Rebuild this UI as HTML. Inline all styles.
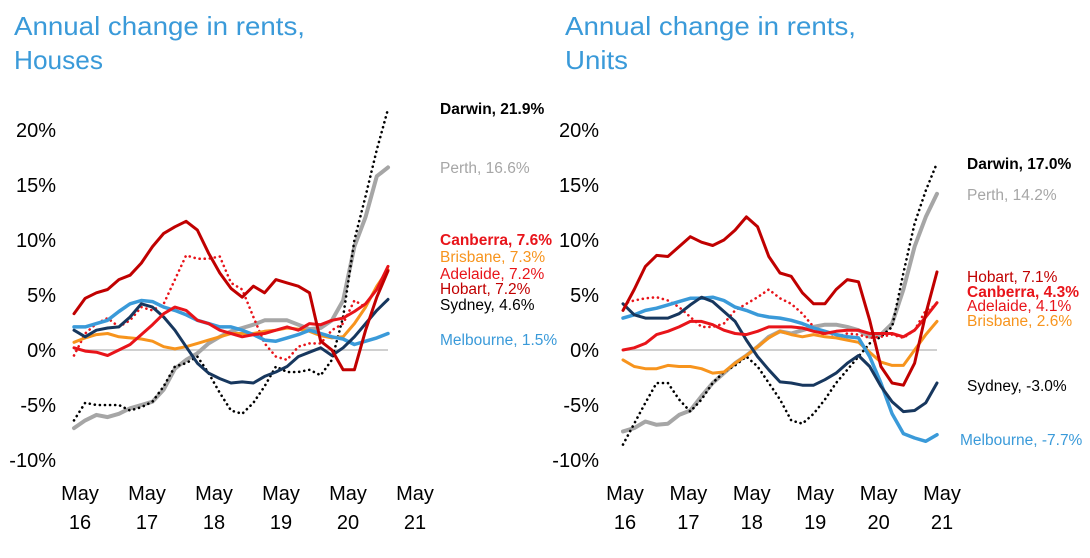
<!DOCTYPE html>
<html><head><meta charset="utf-8"><style>
html,body{margin:0;padding:0;background:#fff;}
svg{display:block;font-family:"Liberation Sans",sans-serif;}
</style></head><body>
<svg id="root" width="1090" height="558" viewBox="0 0 1090 558"></svg>
<script>
// Shared x categories (2-month steps from May 16)
const xCount = 29;
const yTicks = [20, 15, 10, 5, 0, -5, -10];
const yTickLabels = ["20%", "15%", "10%", "5%", "0%", "-5%", "-10%"];
const xTickYears = ["16", "17", "18", "19", "20", "21"];

// Houses
const hDarwin = [-6.4,-4.8,-5,-5,-5,-5.5,-5.2,-4.7,-3.3,-1.5,-1.2,-0.6,-2.1,-3.9,-5.5,-5.8,-4.8,-3.3,-1.5,-2,-2,-1.8,-2.3,-0.9,3,10,14,18.2,21.9];
const hPerth = [-7.1,-6.4,-5.9,-6.1,-5.8,-5.3,-5,-4.7,-3.6,-1.7,-0.9,-0.3,0.6,1.2,1.7,2,2.3,2.7,2.7,2.7,2.3,1.9,2,2.7,4.5,9.4,12.1,15.8,16.6];
const hCanberra = [0.2,-0.1,-0.2,-0.5,0,0.5,1.4,2.3,3.3,3.9,3.6,2.7,2.4,1.8,1.5,1.2,1.4,1.5,1.8,2.1,1.8,2.4,2.3,2.7,2.9,3.5,4.2,5.5,7.6];
const hHobart = [3.3,4.7,5.2,5.5,6.4,6.8,7.9,9.4,10.6,11.2,11.7,10.9,8.8,7,5.6,4.8,5.8,5.2,6.4,6.1,5.8,5.2,0.8,0,-1.8,-1.8,1.8,4.8,7.2];
const hAdelaide = [-0.5,1.5,2.4,2.9,2.1,2.7,3.9,3.6,4.2,6.4,8.6,8.3,8.3,8.5,6.1,5.5,3,0.6,-0.6,-0.9,0.3,0.6,0.6,1.8,2.4,4.5,3.9,5.8,7.2];
const hBrisbane = [0.7,1.1,1.4,1.5,1.2,1.1,1,0.8,0.3,0.1,0.3,0.6,0.9,1.2,1.5,1.5,1.5,1.7,1.8,2,1.9,1.7,1.3,1.1,1.2,2.4,3.9,5.8,7.3];
const hSydney = [1.8,1.2,1.8,2,2.1,3,4.2,3.9,3,1.8,0.3,-1.2,-2.1,-2.6,-3,-2.9,-3,-2.4,-2,-1.5,-0.6,-0.2,0.2,-0.5,0.2,1.2,2.4,3.6,4.6];
const hMelbourne = [2.1,2.1,2.4,2.7,3.5,4.2,4.5,4.4,3.9,3.6,3.2,2.7,2.4,2.1,2.1,1.8,1.4,0.9,0.8,1.1,1.4,1.8,1.5,1.2,1,0.5,0.8,1.1,1.5];

// Units
const uDarwin = [-8.6,-6.7,-4.8,-3,-3,-4.5,-5.6,-4.5,-3,-2,-1.4,-0.6,-1.5,-3,-4.5,-6.4,-6.7,-5.8,-4.5,-3,-1.8,-0.6,0.6,1.2,2.1,7,11.5,14.5,17];
const uPerth = [-7.4,-7.1,-6.5,-6.8,-6.7,-5.9,-5.5,-4.2,-3,-2.1,-1.2,-0.5,0.3,1.2,1.7,1.5,1.8,2.1,2.3,2.3,2.1,1.8,1.2,1.4,2.4,5.5,9.4,12.1,14.2];
const uHobart = [3.6,5.5,7.6,8.6,8.5,9.4,10.3,9.8,9.5,10,10.9,12.1,11.2,8.5,7,6.7,5.2,4.2,4.2,5.5,6.4,6.2,2.7,-1.5,-3,-3.2,-1.2,3.3,7.1];
const uCanberra = [0,0.2,0.6,1.4,1.7,2.1,2.6,2.6,2.3,1.8,1.5,1.4,1.7,2.1,2.1,2.1,2,1.7,1.5,1.7,1.8,1.8,1.5,1.5,1.5,1.2,1.8,3,4.3];
const uAdelaide = [4.2,4.5,4.7,4.8,4.5,3.9,3,2.1,2.1,2.4,3.6,4.2,4.8,5.5,4.7,4.2,3.3,2.1,1.2,1.2,1.5,1.4,1.1,1.2,1.4,1.1,1.8,3.6,4.1];
const uBrisbane = [-0.9,-1.5,-1.7,-1.7,-1.4,-1.5,-1.5,-1.7,-2.1,-2,-1.2,-0.5,0.3,1.1,1.7,1.4,1.2,1.4,1.2,1.1,0.9,0.7,-0.2,-1.1,-1.4,-1.4,0,1.4,2.6];
const uSydney = [4.2,3.2,2.9,2.9,2.9,3.3,4.1,4.8,4.4,3.5,2.6,0.9,-0.6,-1.8,-2.9,-3,-3.2,-3.2,-2.7,-2.1,-1.2,-0.5,-1.5,-3.3,-4.7,-5.6,-5.5,-4.8,-3];
const uMelbourne = [2.9,3.2,3.6,3.8,4.1,4.4,4.7,4.7,4.8,4.5,3.9,3.6,3.2,3,2.9,2.7,2.4,2,1.7,1.4,1.2,1.1,-0.6,-3,-5.8,-7.6,-8,-8.3,-7.7];

const C = {darwin:"#000", perth:"#a6a6a6", canberra:"#e8141a", hobart:"#c00000", adelaide:"#e8141a", brisbane:"#f7941d", sydney:"#17375e", melbourne:"#3a9ad9"};
const NS = "http://www.w3.org/2000/svg";
const root = document.getElementById("root");
function mk(tag, attrs, parent){ const e=document.createElementNS(NS,tag); for(const k in attrs) e.setAttribute(k,attrs[k]); (parent||root).appendChild(e); return e; }

function drawChart(opt){
  const g = mk("g",{});
  
  
  const y = v => 350 - v*11;
  const x = i => opt.x0 + i*(314/(xCount-1));
  // titles
  opt.title.forEach((t,i)=>{
    const tt = mk("text",{x:opt.tx, y:35+i*34, fill:"#3a9ad9", "font-size":"26", textLength:opt.titleLen[i], lengthAdjust:"spacingAndGlyphs"}, g);
    tt.textContent = t;
    
    
  });
  // y ticks
  yTicks.forEach((v,i)=>{
    const t = mk("text",{x:opt.yl, y:y(v)+7, "text-anchor":"end", "font-size":"20", fill:"#000"}, g);
    t.textContent = yTickLabels[i];
    
    
  });
  // x ticks
  xTickYears.forEach((yr,i)=>{
    const cx = opt.xl0 + i*opt.xlStep;
    const t1 = mk("text",{x:cx, y:500, "text-anchor":"middle", "font-size":"20", fill:"#000"}, g);
    t1.textContent = "May";
    
    
    const t2 = mk("text",{x:cx, y:529, "text-anchor":"middle", "font-size":"20", fill:"#000"}, g);
    t2.textContent = yr;
    
    
  });
  // zero line
  const z = mk("line",{x1:x(0), x2:x(xCount-1), y1:y(0), y2:y(0), stroke:"#d0d0d0", "stroke-width":"2"}, g);
  
  
  // series
  opt.series.forEach(s=>{
    const d = s.data.map((v,i)=>(i?"L":"M")+x(i).toFixed(1)+","+y(v).toFixed(1)).join("");
    const a = {d:d, fill:"none", stroke:s.color, "stroke-width":s.w||3, "stroke-linejoin":"round", "stroke-linecap":"round"};
    if(s.dot){ a["stroke-dasharray"]="0.1 5"; a["stroke-width"]=2.6; }
    const p = mk("path",a,g);
    
    
  });
  // labels
  opt.labels.forEach(l=>{
    const t = mk("text",{x:l.x, y:l.y, fill:l.color, "font-size":"15.5", "font-weight":l.bold?"bold":"normal"}, g);
    t.textContent = l.text;
    
    
  });
}

drawChart({name:"houses-chart", title:["Annual change in rents,","Houses"], titleLen:[291,89], tx:14, x0:74, yl:56, xl0:80, xlStep:67,
  series:[
    {key:"perth",data:hPerth,color:C.perth,w:4},
    {key:"darwin",data:hDarwin,color:C.darwin,dot:true},
    {key:"adelaide",data:hAdelaide,color:C.adelaide,dot:true},
    {key:"brisbane",data:hBrisbane,color:C.brisbane},
    {key:"melbourne",data:hMelbourne,color:C.melbourne,w:3.5},
    {key:"sydney",data:hSydney,color:C.sydney},
    {key:"canberra",data:hCanberra,color:C.canberra},
    {key:"hobart",data:hHobart,color:C.hobart}],
  labels:[
    {key:"darwin",text:"Darwin, 21.9%",x:440,y:114,color:"#000",bold:true},
    {key:"perth",text:"Perth, 16.6%",x:440,y:173,color:"#a6a6a6"},
    {key:"canberra",text:"Canberra, 7.6%",x:440,y:245,color:"#e8141a",bold:true},
    {key:"brisbane",text:"Brisbane, 7.3%",x:440,y:262,color:"#f7941d"},
    {key:"adelaide",text:"Adelaide, 7.2%",x:440,y:279,color:"#e8141a"},
    {key:"hobart",text:"Hobart, 7.2%",x:440,y:294,color:"#c00000"},
    {key:"sydney",text:"Sydney, 4.6%",x:440,y:310,color:"#000"},
    {key:"melbourne",text:"Melbourne, 1.5%",x:440,y:345,color:"#3a9ad9"}]
});

drawChart({name:"units-chart", title:["Annual change in rents,","Units"], titleLen:[291,63], tx:565, x0:623, yl:599, xl0:625, xlStep:63.4,
  series:[
    {key:"perth",data:uPerth,color:C.perth,w:4},
    {key:"darwin",data:uDarwin,color:C.darwin,dot:true},
    {key:"adelaide",data:uAdelaide,color:C.adelaide,dot:true},
    {key:"brisbane",data:uBrisbane,color:C.brisbane},
    {key:"melbourne",data:uMelbourne,color:C.melbourne,w:3.5},
    {key:"sydney",data:uSydney,color:C.sydney},
    {key:"canberra",data:uCanberra,color:C.canberra},
    {key:"hobart",data:uHobart,color:C.hobart}],
  labels:[
    {key:"darwin",text:"Darwin, 17.0%",x:967,y:169,color:"#000",bold:true},
    {key:"perth",text:"Perth, 14.2%",x:967,y:200,color:"#a6a6a6"},
    {key:"hobart",text:"Hobart, 7.1%",x:967,y:282,color:"#c00000"},
    {key:"canberra",text:"Canberra, 4.3%",x:967,y:297,color:"#e8141a",bold:true},
    {key:"adelaide",text:"Adelaide, 4.1%",x:967,y:311,color:"#e8141a"},
    {key:"brisbane",text:"Brisbane, 2.6%",x:967,y:326,color:"#f7941d"},
    {key:"sydney",text:"Sydney, -3.0%",x:967,y:391,color:"#000"},
    {key:"melbourne",text:"Melbourne, -7.7%",x:960,y:445,color:"#3a9ad9"}]
});
</script>
</body></html>
